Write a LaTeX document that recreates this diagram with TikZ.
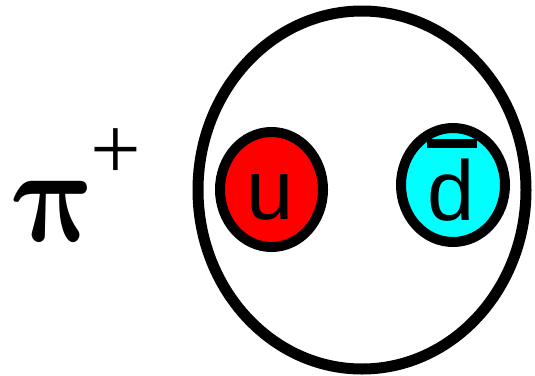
\documentclass[tikz,border=0pt]{standalone}
\usepackage{bm}
\usepackage{fontspec}
\setmainfont{Liberation Sans}
\newfontfamily\serifpi{Liberation Serif}
\usetikzlibrary{shapes.geometric}
\definecolor{quarkred}{RGB}{255,0,0}
\definecolor{quarkcyan}{RGB}{0,255,255}
\begin{document}
\begin{tikzpicture}[x=1pt,y=-1pt,
  hadron/.style={draw=black,line width=11pt,ellipse,inner sep=0pt},
  quark/.style={draw=black,line width=10pt,ellipse,inner sep=0pt},
  qlabel/.style={inner sep=0pt,anchor=base,font=\fontsize{85}{85}\selectfont},
  piname/.style={inner sep=0pt,anchor=base west,xslant=-0.2,xscale=4.8,yscale=5.45,transform shape,font=\Huge},
  charge/.style={inner sep=0pt,font=\serifpi\fontsize{90}{90}\selectfont}]
\useasboundingbox (0,0) rectangle (535,375);
\node[hadron,minimum width=328pt,minimum height=358pt] (pion) at (362,190) {};
\node[quark,fill=quarkred,minimum width=103pt,minimum height=115pt] (uq) at (271.5,189.5) {};
\node[quark,fill=quarkcyan,minimum width=104pt,minimum height=114pt] (dq) at (453,185) {};
\node[qlabel] (ul) at (270,219) {u};
\node[qlabel] (dl) at (451,220) {d};
\fill[black] (427,139) rectangle (477,148);
\node[piname] (pi) at (18,241) {$\bm{\pi}$};
\node[charge] (plus) at (115.5,154) {+};
\end{tikzpicture}
\end{document}
